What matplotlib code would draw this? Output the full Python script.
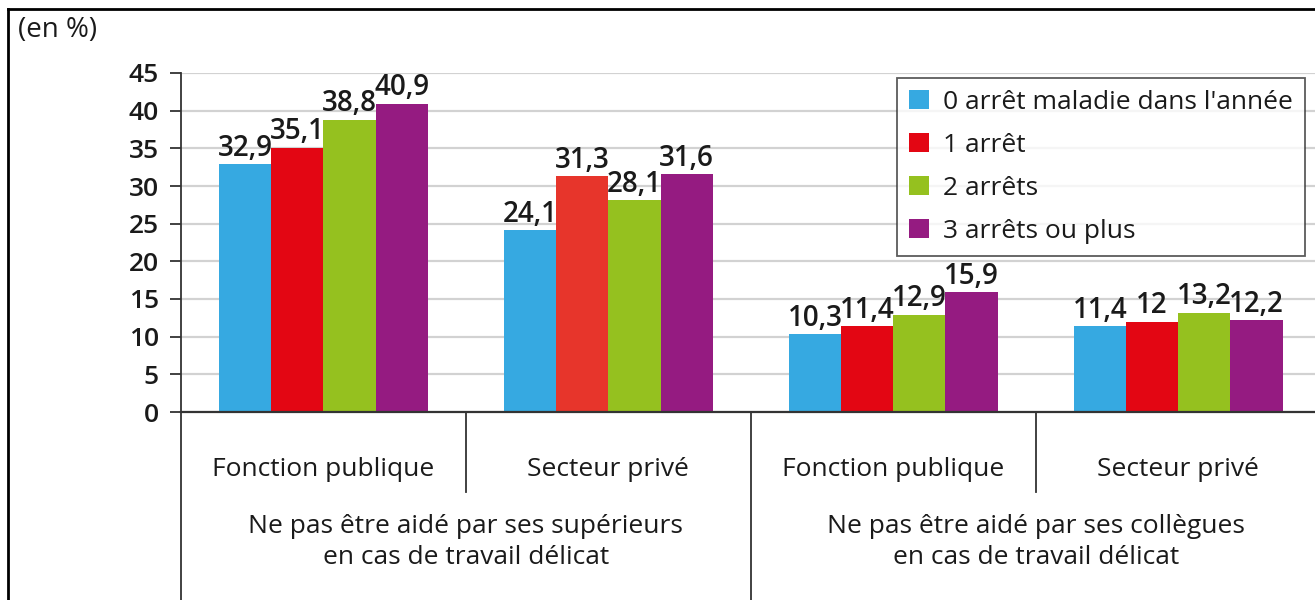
import matplotlib
matplotlib.use("Agg")
import matplotlib.pyplot as plt
import numpy as np
from matplotlib.lines import Line2D

plt.rcParams['font.family'] = ['Open Sans', 'DejaVu Sans']

# data
groups = ["Fonction publique", "Secteur privé", "Fonction publique", "Secteur privé"]
supergroups = ["Ne pas être aidé par ses supérieurs\nen cas de travail délicat",
               "Ne pas être aidé par ses collègues\nen cas de travail délicat"]
series = ["0 arrêt maladie dans l'année", "1 arrêt", "2 arrêts", "3 arrêts ou plus"]
v0 = [32.9, 24.1, 10.3, 11.4]
v1 = [35.1, 31.3, 11.4, 12.0]
v2 = [38.8, 28.1, 12.9, 13.2]
v3 = [40.9, 31.6, 15.9, 12.2]
values = [v0, v1, v2, v3]
colors = ["#36A9E1", "#E30613", "#95C11F", "#951B81"]
yticks = [0, 5, 10, 15, 20, 25, 30, 35, 40, 45]

FS = 19
INKC = "#1a1a1a"
W, H = 1315, 600
fig = plt.figure(figsize=(W/100, H/100), dpi=100)
ax = fig.add_axes([181/W, (H-412)/H, (W-181)/W, (412-73)/H])

x = np.arange(len(groups))
bw = 0.183
for i, (name, vals, col) in enumerate(zip(series, values, colors)):
    bars = ax.bar(x + (i-1.5)*bw, vals, bw, color=col, label=name, zorder=3, linewidth=0)
    if i == 1:
        bars[1].set_facecolor("#E7352B")
    ax.bar_label(bars, labels=[f"{v:g}".replace(".", ",") for v in vals], padding=1,
                 fontsize=20, fontweight="semibold", color=INKC)

ax.set_xlim(-0.5, 3.48)
ax.set_ylim(0, 45)
ax.set_yticks(yticks)
ax.set_yticklabels([str(t) for t in yticks], fontsize=FS, fontweight="semibold", color=INKC)
ax.tick_params(axis="y", length=8, width=1.3, color="#333", pad=8)
ax.set_xticks([])
ax.grid(axis="y", color="#D2D2D2", lw=1.6, zorder=0)
for s in ["top", "right"]:
    ax.spines[s].set_visible(False)
ax.spines["left"].set_color("#333"); ax.spines["left"].set_linewidth(1.3)
ax.spines["bottom"].set_color("#333"); ax.spines["bottom"].set_linewidth(1.6)
ax.spines["bottom"].set_zorder(4)

# category separators below the axis
tr = ax.get_xaxis_transform()
ylong = -188/339
yshort = -80/339
for xs, yb in [(-0.5, ylong), (0.5, yshort), (1.5, ylong), (2.5, yshort)]:
    ax.add_line(Line2D([xs, xs], [0, yb], transform=tr, color="#333", lw=1.3, clip_on=False))
for xi, g in zip(x, groups):
    ax.text(xi, -58/339, g, transform=tr, ha="center", va="center", fontsize=FS, color=INKC)
for k, sg in enumerate(supergroups):
    ax.text(0.5 + 2*k, -130/339, sg, transform=tr, ha="center", va="center", fontsize=FS,
            color=INKC, linespacing=1.27)

leg = ax.legend(loc="upper left", bbox_to_anchor=(897/W, 1-78/H), bbox_transform=fig.transFigure,
                borderaxespad=0, fontsize=FS, frameon=True, fancybox=False, edgecolor="#333",
                handlelength=0.75, handleheight=0.75, handletextpad=0.55, labelspacing=0.68,
                borderpad=0.45)
leg.get_frame().set_linewidth(1.3)
for t in leg.get_texts():
    t.set_color(INKC)

fig.text(18/W, 1-30/H, "(en %)", ha="left", va="center", fontsize=20, color=INKC)

# outer frame (top and left)
fig.add_artist(Line2D([8/W, 1], [1-9/H, 1-9/H], transform=fig.transFigure, color="black", lw=2))
fig.add_artist(Line2D([8/W, 8/W], [1-9/H, 0], transform=fig.transFigure, color="black", lw=2))

fig.savefig("out.png", dpi=100)
